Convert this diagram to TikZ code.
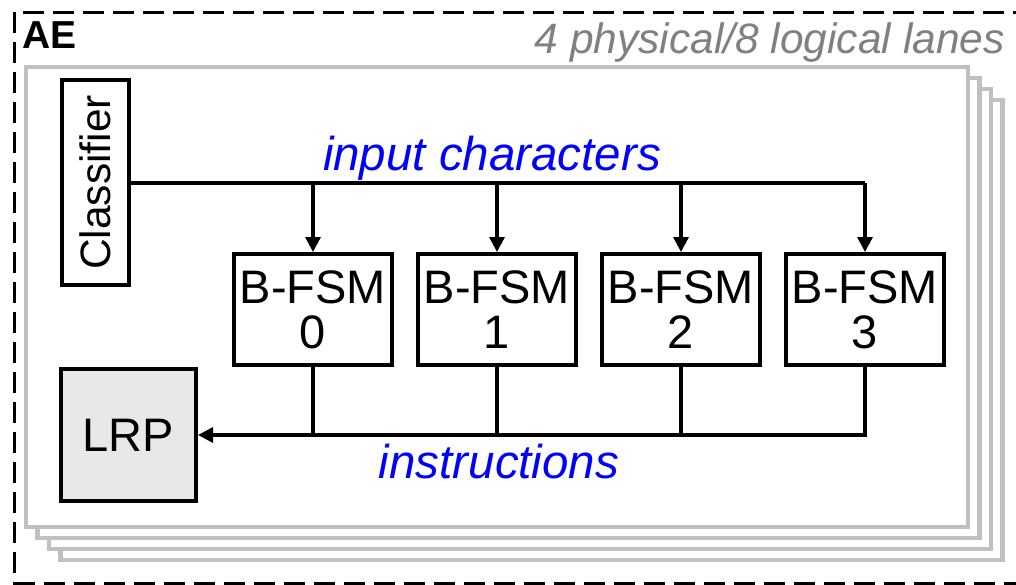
\documentclass[tikz,border=0pt]{standalone}
\usepackage{fontspec}
\setmainfont{Liberation Sans}
\usetikzlibrary{arrows.meta}

\definecolor{lanegray}{HTML}{C0C0C0}
\definecolor{labelgray}{HTML}{808080}
\definecolor{lrpfill}{HTML}{E8E8E8}
\definecolor{sigblue}{RGB}{0,0,255}

\newcommand{\bigfont}{\fontsize{47}{49}\selectfont}

\tikzset{
  unit/.style={draw=black, line width=4pt, fill=white, inner sep=0pt,
    align=center, font=\bigfont},
  lane/.style={draw=lanegray, line width=4.5pt, fill=white},
  wire/.style={line width=3.2pt},
  feed/.style={wire, -{Triangle[length=15pt,width=15pt]}},
  siglabel/.style={font=\fontsize{47.5}{49}\selectfont\itshape, text=sigblue, inner sep=0pt},
}

\begin{document}
\begin{tikzpicture}[x=1pt, y=-1pt]
\useasboundingbox (0,0) rectangle (1016,584);
\clip (0,0) rectangle (1016,584);

% outer AE boundary
\draw[line width=3pt, dash pattern=on 21pt off 9pt] (14.5,12) rectangle (1018,583);
\node[anchor=base west, inner sep=0pt, font=\fontsize{39}{40}\selectfont\bfseries] (ae) at (22,48) {AE};
\node[anchor=base east, inner sep=0pt, text=labelgray,
      font=\fontsize{42.5}{44}\selectfont\itshape] (lanes) at (1005,53) {4 physical/8 logical lanes};

% stacked lanes, back to front
\foreach \k in {3,2,1,0} {
  \draw[lane] (26+11.5*\k, 67+11*\k) rectangle (968+11.5*\k, 527+11*\k);
}

% units
\node[unit, rotate=90, minimum width=205pt, minimum height=67pt,
      font=\fontsize{42.5}{44}\selectfont] (cls) at (95.5,182.5) {Classifier};
\coordinate (clsout) at (129,183);
\foreach \i/\x in {0/313, 1/497, 2/681, 3/865} {
  \node[unit, minimum width=158pt, minimum height=111pt] (b\i) at (\x,309.5) {B-FSM\\[-4pt]\i};
}
\node[unit, fill=lrpfill, minimum width=135pt, minimum height=132pt] (lrp) at (128.5,435) {LRP};

% input characters bus
\draw[wire] (clsout) -- (clsout -| b3.north);
\foreach \i in {0,1,2,3} {
  \draw[feed] (clsout -| b\i.north) -- (b\i.north);
}
\node[siglabel, anchor=base] (inlbl) at (492,170) {input characters};

% instructions bus
\draw[feed] (b3.south) |- (lrp.east);
\foreach \i in {0,1,2} {
  \draw[wire] (b\i.south) -- (b\i.south |- lrp.east);
}
\node[siglabel, anchor=base] (outlbl) at (499,478) {instructions};
\end{tikzpicture}
\end{document}
